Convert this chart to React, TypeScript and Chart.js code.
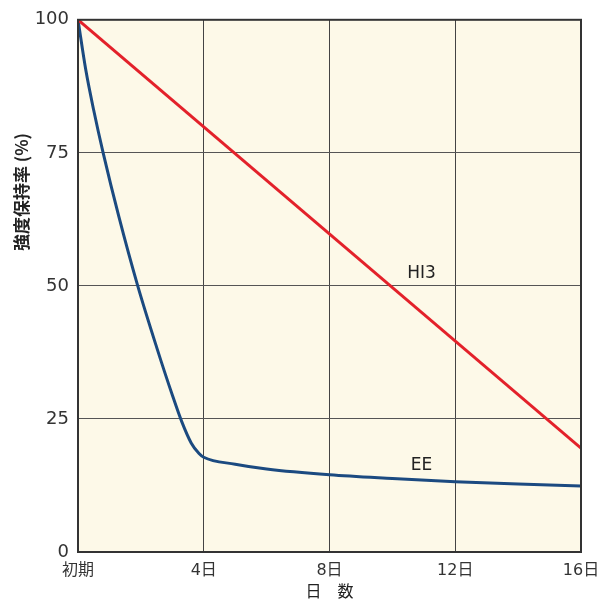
import React, { useEffect, useRef } from "react";
import { Chart, registerables } from "chart.js";

Chart.register(...registerables);

const xTickValues = [0, 4, 8, 12, 16];
const xTickLabels = ["初期", "4日", "8日", "12日", "16日"];
const yTickValues = [0, 25, 50, 75, 100];

const hi3Days = [0, 16];
const hi3Values = [100, 19.5];

const eeDays = [0, 0.25, 0.5, 0.8, 1.3, 1.9, 2.5, 3.0, 3.3, 3.6, 3.85, 4, 5, 6, 8, 10, 12, 14, 16];
const eeValues = [100, 90.5, 83, 75, 63, 50, 38.5, 29.5, 24.5, 20.5, 18.5, 17.8, 16.5, 15.6, 14.5, 13.8, 13.2, 12.8, 12.4];

const seriesLabels = [
  { text: "HI3", day: 10.93, value: 52.4 },
  { text: "EE", day: 10.93, value: 16.3 },
];

const FONT = "'DejaVu Sans', 'Noto Sans CJK JP', sans-serif";
const CJK = "'Noto Sans CJK JP', sans-serif";

export default function App() {
  const ref = useRef<HTMLCanvasElement | null>(null);
  useEffect(() => {
    document.body.style.margin = "0";
    const canvas = ref.current!;
    const decor = {
      id: "decor",
      beforeDraw(chart: any) {
        const { ctx, chartArea: a } = chart;
        ctx.save();
        ctx.fillStyle = "#fdf9e8";
        ctx.fillRect(a.left, a.top, a.right - a.left, a.bottom - a.top);
        ctx.restore();
      },
      afterDraw(chart: any) {
        const { ctx, chartArea: a, scales } = chart;
        ctx.save();
        ctx.strokeStyle = "#333";
        ctx.lineWidth = 2;
        ctx.strokeRect(a.left, a.top, a.right - a.left, a.bottom - a.top);
        ctx.fillStyle = "#222";
        ctx.font = `17px ${FONT}`;
        ctx.textAlign = "center";
        ctx.textBaseline = "middle";
        for (const l of seriesLabels) {
          ctx.fillText(l.text, scales.x.getPixelForValue(l.day), scales.y.getPixelForValue(l.value));
        }
        ctx.translate(22, 192);
        ctx.rotate(-Math.PI / 2);
        ctx.font = `bold 17px ${CJK}`;
        ctx.fillText("強度保持率 (%)", 0, 0);
        ctx.restore();
      },
    };
    const chart = new Chart(canvas, {
      type: "line",
      data: {
        datasets: [
          {
            label: "HI3",
            data: hi3Days.map((d, i) => ({ x: d, y: hi3Values[i] })),
            borderColor: "#e3212a",
            borderWidth: 3,
            pointRadius: 0,
            tension: 0,
          },
          {
            label: "EE",
            data: eeDays.map((d, i) => ({ x: d, y: eeValues[i] })),
            borderColor: "#1b4a80",
            borderWidth: 3,
            pointRadius: 0,
            cubicInterpolationMode: "monotone",
          },
        ],
      },
      options: {
        animation: false,
        responsive: false,
        devicePixelRatio: 1,
        layout: { padding: { top: 17, right: 30, left: 0, bottom: 0 } },
        plugins: { legend: { display: false }, tooltip: { enabled: false } },
        scales: {
          x: {
            type: "linear",
            min: 0,
            max: 16,
            afterBuildTicks: (s: any) => {
              s.ticks = xTickValues.map((v) => ({ value: v }));
            },
            ticks: {
              callback: (v: any) => xTickLabels[xTickValues.indexOf(Number(v))] ?? "",
              color: "#333",
              font: { family: FONT, size: 16 },
              padding: 9,
              maxRotation: 0,
            },
            grid: { color: "#444", lineWidth: 1, drawTicks: false },
            border: { display: false },
            title: {
              display: true,
              text: "日　数",
              color: "#222",
              font: { family: CJK, size: 16 },
              padding: { top: 0, bottom: 2 },
            },
            afterFit: (s: any) => {
              s.height = 51;
            },
          },
          y: {
            type: "linear",
            min: 0,
            max: 100,
            afterBuildTicks: (s: any) => {
              s.ticks = yTickValues.map((v) => ({ value: v }));
            },
            ticks: {
              color: "#333",
              font: { family: FONT, size: 18 },
              padding: 9,
            },
            grid: { color: "#555", lineWidth: 1, drawTicks: false },
            border: { display: false },
            afterFit: (s: any) => {
              s.width = 78;
            },
          },
        },
      },
      plugins: [decor],
    } as any);
    return () => chart.destroy();
  }, []);
  return (
    <div style={{ position: "fixed", left: 0, top: 0, width: 611, height: 603, background: "#fff" }}>
      <canvas ref={ref} width={611} height={603} />
    </div>
  );
}
